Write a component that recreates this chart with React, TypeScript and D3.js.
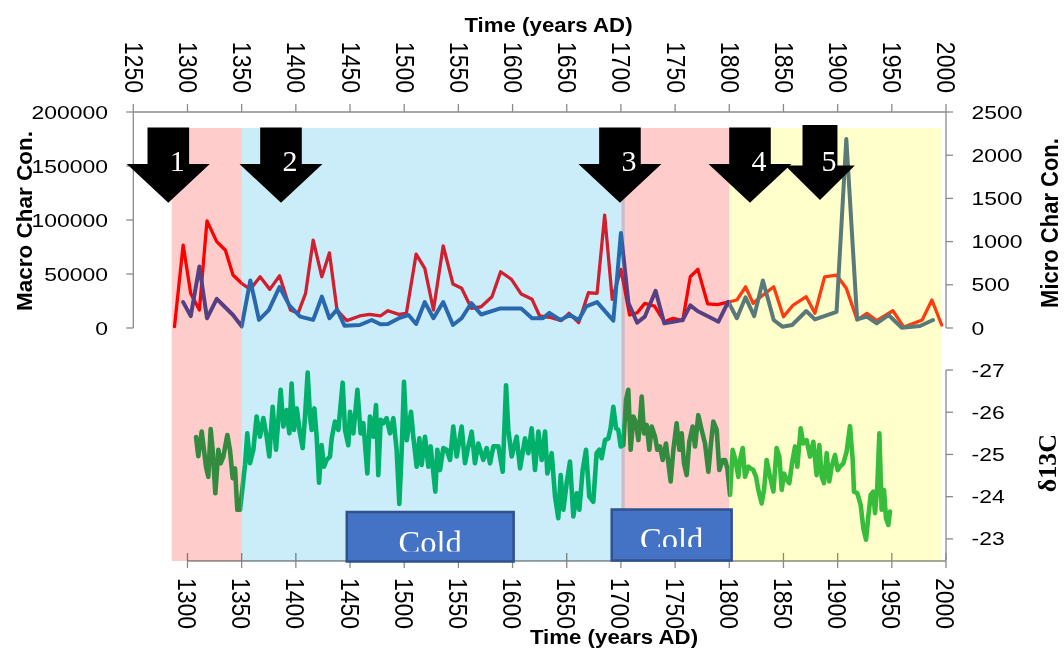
import React from 'react';
import * as d3 from 'd3';

const W = 1064;
const H = 652;

// Axis ticks
const topTicks = [1250, 1300, 1350, 1400, 1450, 1500, 1550, 1600, 1650, 1700, 1750, 1800, 1850, 1900, 1950, 2000];
const bottomTicks = [1300, 1350, 1400, 1450, 1500, 1550, 1600, 1650, 1700, 1750, 1800, 1850, 1900, 1950, 2000];
const macroTicks = [0, 50000, 100000, 150000, 200000];
const microTicks = [0, 500, 1000, 1500, 2000, 2500];
const isoTicks = [-27, -26, -25, -24, -23];

// Climate periods (shaded)
const bandStart = [1285.4, 1350, 1700.5, 1800];
const bandEnd = [1350, 1703.5, 1800, 1996];

// Numbered events
const eventLabels = ['1', '2', '3', '4', '5'];
const eventYears = [1282.3, 1386.3, 1699.1, 1819.1, 1883.7];

// Cold periods
const coldLabels = ['Cold', 'Cold'];
const coldStart = [1447, 1691.5];
const coldEnd = [1601, 1802.2];

// Macro charcoal concentration (left axis)
const macroYears = [1296, 1303, 1311, 1318, 1327, 1335, 1342, 1350, 1358, 1366, 1375, 1385, 1394, 1404, 1416, 1424, 1431, 1438, 1445, 1459, 1470, 1478, 1485, 1496, 1504, 1511, 1519, 1527, 1536, 1545, 1553, 1562, 1571, 1588, 1608, 1618, 1628, 1634, 1644, 1653, 1661, 1668, 1678, 1693, 1700, 1707, 1715, 1722, 1732, 1740, 1748, 1757, 1764, 1771, 1782, 1790, 1799, 1807, 1815, 1823, 1831, 1841, 1849, 1858, 1871, 1879, 1899, 1908, 1918, 1927, 1936, 1947, 1959, 1976, 1988];
const macroValues = [24000, 11000, 57000, 9000, 27000, 19000, 12000, 1500, 44000, 7500, 16500, 38000, 21000, 10500, 7500, 29000, 9000, 17000, 2000, 2800, 7400, 3400, 3700, 9500, 12000, 3700, 24000, 9000, 24000, 2800, 9000, 23000, 12500, 18000, 18000, 9000, 9000, 14000, 7400, 12000, 7400, 20000, 24000, 6800, 88000, 23000, 4900, 10500, 34500, 4300, 5800, 7400, 21000, 15500, 10000, 5800, 24300, 9000, 28400, 11000, 44000, 7400, 1200, 2800, 15700, 8000, 15000, 175000, 8000, 10500, 4300, 12000, 300, 1900, 7400];

// Micro charcoal concentration (right axis)
const microYears = [1288, 1296, 1303, 1311, 1318, 1327, 1335, 1342, 1350, 1358, 1367, 1376, 1385, 1395, 1402, 1409, 1416, 1424, 1431, 1438, 1447, 1459, 1468, 1478, 1485, 1495, 1502, 1511, 1519, 1527, 1536, 1545, 1553, 1562, 1571, 1581, 1589, 1599, 1608, 1618, 1625, 1634, 1645, 1652, 1661, 1670, 1678, 1685, 1692, 1700, 1708, 1715, 1722, 1731, 1740, 1748, 1757, 1764, 1771, 1780, 1789, 1799, 1807, 1815, 1822, 1831, 1841, 1850, 1859, 1871, 1879, 1888, 1899, 1908, 1918, 1927, 1936, 1951, 1961, 1978, 1987, 1996];
const microValues = [15, 960, 400, 208, 1240, 1000, 900, 613, 517, 447, 593, 447, 605, 208, 170, 400, 1017, 593, 870, 208, 85, 139, 158, 139, 200, 158, 170, 855, 690, 208, 951, 509, 459, 228, 246, 362, 651, 563, 393, 332, 139, 124, 85, 170, 62, 408, 401, 1306, 332, 679, 150, 177, 285, 254, 73, 112, 85, 593, 679, 280, 270, 300, 324, 477, 285, 381, 477, 131, 266, 362, 170, 593, 613, 459, 92, 170, 85, 200, 10, 92, 324, 35];

// δ13C record (lower panel, reversed axis)
const isoYears = [1307.9, 1310.0, 1313.1, 1315.2, 1317.1, 1319.2, 1321.4, 1323.2, 1325.7, 1328.5, 1330.6, 1333.1, 1336.8, 1339.2, 1341.7, 1343.9, 1346.0, 1348.5, 1350.9, 1353.1, 1355.2, 1357.7, 1360.8, 1363.8, 1366.9, 1370.0, 1373.1, 1375.5, 1378.6, 1381.7, 1386.0, 1388.5, 1391.5, 1394.0, 1396.1, 1398.3, 1400.8, 1403.8, 1406.3, 1408.5, 1410.9, 1413.1, 1414.6, 1417.1, 1419.2, 1421.4, 1423.8, 1426.0, 1428.4, 1431.5, 1433.1, 1436.1, 1439.2, 1443.2, 1445.4, 1448.4, 1450.0, 1453.1, 1456.8, 1459.8, 1462.3, 1466.0, 1468.4, 1471.5, 1474.0, 1476.1, 1478.3, 1480.7, 1483.8, 1486.9, 1490.0, 1493.0, 1495.5, 1497.7, 1499.8, 1502.3, 1506.3, 1508.4, 1511.5, 1514.0, 1516.1, 1519.2, 1522.3, 1524.4, 1528.7, 1530.6, 1533.0, 1536.1, 1539.2, 1542.3, 1545.3, 1548.4, 1553.0, 1556.1, 1559.2, 1562.3, 1565.3, 1568.4, 1573.0, 1576.1, 1579.2, 1582.3, 1586.9, 1590.9, 1594.0, 1596.1, 1599.2, 1603.8, 1606.9, 1611.5, 1614.6, 1617.6, 1620.7, 1623.8, 1626.9, 1630.0, 1632.1, 1636.1, 1639.2, 1642.2, 1644.4, 1646.9, 1649.9, 1653.0, 1656.1, 1659.2, 1661.6, 1664.7, 1667.8, 1670.8, 1674.5, 1677.6, 1680.1, 1682.2, 1685.3, 1688.4, 1690.5, 1693.0, 1695.5, 1697.6, 1699.8, 1702.2, 1704.7, 1706.8, 1709.0, 1711.5, 1713.9, 1716.1, 1719.2, 1721.3, 1723.8, 1726.2, 1728.4, 1731.5, 1733.6, 1736.1, 1738.5, 1741.6, 1743.8, 1745.9, 1748.4, 1751.4, 1753.9, 1756.1, 1758.2, 1760.7, 1763.1, 1766.2, 1768.4, 1771.4, 1774.5, 1777.6, 1780.7, 1783.1, 1785.3, 1788.4, 1790.8, 1793.9, 1796.1, 1798.2, 1800.7, 1803.1, 1805.6, 1808.4, 1809.9, 1812.4, 1814.5, 1817.6, 1819.7, 1822.2, 1824.7, 1826.8, 1829.9, 1832.1, 1834.5, 1837.6, 1840.7, 1843.7, 1846.2, 1848.4, 1850.5, 1853.0, 1855.4, 1857.9, 1860.7, 1862.8, 1865.9, 1868.3, 1871.4, 1874.5, 1877.6, 1880.6, 1883.1, 1885.3, 1887.4, 1889.9, 1892.3, 1894.5, 1897.6, 1900.0, 1902.2, 1905.3, 1908.3, 1911.4, 1913.9, 1915.1, 1918.2, 1921.3, 1923.7, 1926.2, 1928.3, 1930.5, 1932.9, 1934.5, 1936.6, 1938.5, 1940.6, 1942.8, 1944.6, 1946.8, 1948.3];
const isoValues = [-25.41, -24.96, -25.54, -25.11, -24.71, -24.47, -25.60, -25.11, -24.08, -25.11, -24.79, -24.95, -25.46, -25.11, -24.44, -24.67, -23.69, -23.69, -24.24, -24.75, -25.50, -24.79, -25.11, -25.90, -25.42, -25.86, -25.42, -24.95, -26.13, -25.11, -26.53, -25.66, -26.05, -25.50, -26.68, -25.58, -26.09, -25.50, -25.15, -25.90, -26.94, -25.90, -25.58, -26.09, -25.42, -24.33, -25.22, -24.71, -24.87, -24.95, -25.38, -25.78, -25.58, -26.70, -25.58, -25.22, -26.01, -25.50, -26.53, -25.50, -25.74, -24.55, -25.90, -25.42, -26.17, -24.51, -25.82, -25.74, -25.86, -25.50, -25.86, -25.11, -23.83, -25.11, -26.72, -25.34, -26.01, -25.42, -24.71, -25.38, -24.75, -25.42, -24.71, -25.19, -24.12, -25.11, -24.63, -25.15, -25.11, -24.87, -25.66, -24.95, -25.66, -24.79, -25.19, -25.54, -24.79, -25.26, -24.87, -25.15, -24.79, -25.19, -25.19, -24.59, -26.64, -25.58, -24.95, -25.42, -24.67, -25.38, -25.03, -25.62, -24.63, -25.54, -24.87, -25.54, -24.55, -25.03, -24.00, -23.49, -24.51, -23.69, -24.32, -24.83, -23.53, -24.08, -23.69, -24.63, -25.11, -24.00, -23.88, -25.03, -25.11, -24.91, -25.34, -25.38, -25.62, -26.13, -25.62, -25.58, -25.19, -25.22, -26.29, -26.53, -25.11, -25.90, -25.74, -25.34, -26.37, -25.50, -25.70, -25.11, -25.66, -25.42, -25.11, -25.19, -24.87, -25.26, -24.79, -24.36, -25.11, -25.74, -25.11, -25.50, -24.79, -24.51, -25.30, -25.66, -25.19, -25.93, -25.58, -25.26, -24.59, -25.26, -25.78, -25.58, -24.63, -24.87, -24.87, -24.67, -24.04, -25.11, -24.87, -24.47, -24.87, -25.15, -24.47, -24.71, -24.67, -24.63, -24.47, -24.16, -23.84, -24.16, -24.87, -24.47, -24.12, -25.15, -24.95, -24.16, -24.55, -24.40, -24.32, -24.79, -25.19, -24.71, -25.62, -25.26, -25.34, -24.95, -25.30, -24.51, -25.22, -24.47, -24.32, -25.03, -24.36, -24.71, -24.99, -24.63, -24.71, -24.79, -25.07, -25.67, -24.87, -24.12, -24.08, -23.80, -23.25, -22.98, -23.53, -24.04, -24.12, -23.61, -24.24, -25.50, -23.69, -24.16, -23.49, -23.33, -23.65];

// Styling
const SANS = "'Liberation Sans', Arial, sans-serif";
const SERIF = "'Liberation Serif', 'Times New Roman', serif";
const AXIS = '#8a8a8a';
const bandFills = ['#ffcccc', '#cbedf9', '#ffcccc', '#ffffcc'];
const macroColors = ['#574082', '#2a68ad', '#574082', '#5a7a7a'];
const microColors = ['#ff0000', '#d0202f', '#ff0000', '#ff3b12'];
const isoColors = ['#348a3f', '#00b06b', '#348a3f', '#37bd3c'];

const BAND_TOP = 128;
const BAND_BOTTOM = 561;
const BOTTOM_AXIS_Y = 561;
const TOP_AXIS_Y = 112;

const coldTop = [512, 509.5];
const coldBottom = [561.5, 560.5];
const coldTextClip = [551.5, 547];
const arrowScale = [1, 1, 1, 1, 0.84];

type TProps = {
  x: number;
  y: number;
  sx?: number;
  rot?: number;
  children: React.ReactNode;
  [k: string]: any;
};

function SText({ x, y, sx = 1, rot = 0, children, ...rest }: TProps) {
  return (
    <text transform={`translate(${x},${y}) scale(${sx},1) rotate(${rot})`} {...rest}>
      {children}
    </text>
  );
}

export default function App() {
  const x = d3.scaleLinear().domain([1250, 2000]).range([133.3, 946]);
  const yMacro = d3.scaleLinear().domain([0, 200000]).range([328, 112]);
  const yMicro = d3.scaleLinear().domain([0, 2500]).range([328, 112]);
  const yIso = d3.scaleLinear().domain([-27, -22.5]).range([370, 560]);

  const xl = x(1250);
  const xr = x(2000);

  // colour segments follow the shaded periods
  const segEdges = bandStart.map((s, i) =>
    i === 0 ? 1250 : (s + bandEnd[i - 1]) / 2
  );
  segEdges.push(2000);

  const macroLine = d3
    .line<number>()
    .x((_, i) => x(macroYears[i]))
    .y((d) => yMacro(d));
  const microLine = d3
    .line<number>()
    .x((_, i) => x(microYears[i]))
    .y((d) => yMicro(d));
  const isoLine = d3
    .line<number>()
    .x((_, i) => x(isoYears[i]))
    .y((d) => yIso(d));

  const segmented = (d: string, colors: string[], width: number, key: string) =>
    colors.map((c, i) => (
      <path
        key={`${key}${i}`}
        d={d}
        fill="none"
        stroke={c}
        strokeWidth={width}
        strokeLinejoin="round"
        strokeLinecap="round"
        clipPath={`url(#seg${i})`}
      />
    ));

  const arrowPath = (cx: number, s: number) => {
    const sh = 20.8 * s;
    const hh = 41.5 * s;
    const top = s < 1 ? 125 : 127.5;
    const base = s < 1 ? 165.5 : 164;
    const tip = s < 1 ? 200 : 202.7;
    return `M${cx - sh},${top}L${cx + sh},${top}L${cx + sh},${base}L${cx + hh},${base}L${cx},${tip}L${cx - hh},${base}L${cx - sh},${base}Z`;
  };

  return (
    <svg
      width={W}
      height={H}
      style={{ position: 'absolute', left: 0, top: 0, background: '#fff' }}
    >
      <defs>
        {segEdges.slice(0, -1).map((e, i) => (
          <clipPath id={`seg${i}`} key={i}>
            <rect x={x(e)} y={0} width={x(segEdges[i + 1]) - x(e)} height={H} />
          </clipPath>
        ))}
        {coldLabels.map((_, i) => (
          <clipPath id={`coldclip${i}`} key={i}>
            <rect x={0} y={0} width={W} height={coldTextClip[i]} />
          </clipPath>
        ))}
      </defs>

      {/* bottom time axis line (tinted by the period shading) */}
      <line x1={x(1300)} x2={xr} y1={BOTTOM_AXIS_Y} y2={BOTTOM_AXIS_Y} stroke={AXIS} strokeWidth={1.3} />
      {bottomTicks.map((t) => (
        <line key={t} x1={x(t)} x2={x(t)} y1={BOTTOM_AXIS_Y - 8} y2={BOTTOM_AXIS_Y + 7} stroke={AXIS} strokeWidth={1.3} />
      ))}

      {/* period shading */}
      {bandStart.map((s, i) => (
        <rect
          key={i}
          x={x(s)}
          y={BAND_TOP}
          width={x(bandEnd[i]) - x(s)}
          height={BAND_BOTTOM - BAND_TOP}
          fill={bandFills[i]}
          style={{ mixBlendMode: 'multiply' }}
        />
      ))}

      {/* series */}
      {segmented(isoLine(isoValues) || '', isoColors, 4.6, 'iso')}
      {segmented(microLine(microValues) || '', microColors, 3.3, 'mic')}
      {segmented(macroLine(macroValues) || '', macroColors, 4, 'mac')}

      {/* top time axis */}
      <line x1={xl} x2={xr} y1={TOP_AXIS_Y} y2={TOP_AXIS_Y} stroke={AXIS} strokeWidth={1.3} />
      {topTicks.map((t) => (
        <line key={t} x1={x(t)} x2={x(t)} y1={TOP_AXIS_Y - 8} y2={TOP_AXIS_Y} stroke={AXIS} strokeWidth={1.3} />
      ))}

      {/* left macro axis */}
      <line x1={xl} x2={xl} y1={yMacro(200000)} y2={yMacro(0)} stroke={AXIS} strokeWidth={1.3} />
      {macroTicks.map((t) => (
        <line key={t} x1={xl - 7} x2={xl} y1={yMacro(t)} y2={yMacro(t)} stroke={AXIS} strokeWidth={1.3} />
      ))}

      {/* right micro axis */}
      <line x1={xr} x2={xr} y1={yMicro(2500)} y2={yMicro(0)} stroke={AXIS} strokeWidth={1.3} />
      {microTicks.map((t) => (
        <line key={t} x1={xr} x2={xr + 7} y1={yMicro(t)} y2={yMicro(t)} stroke={AXIS} strokeWidth={1.3} />
      ))}

      {/* right δ13C axis */}
      <line x1={xr} x2={xr} y1={yIso(-27)} y2={yIso(-22.5)} stroke={AXIS} strokeWidth={1.3} />
      {isoTicks.map((t) => (
        <line key={t} x1={xr} x2={xr + 7} y1={yIso(t)} y2={yIso(t)} stroke={AXIS} strokeWidth={1.3} />
      ))}

      {/* cold periods */}
      {coldLabels.map((lab, i) => {
        const x0 = x(coldStart[i]);
        const x1 = x(coldEnd[i]);
        return (
          <g key={i}>
            <rect
              x={x0}
              y={coldTop[i]}
              width={x1 - x0}
              height={coldBottom[i] - coldTop[i]}
              fill="#4472c4"
              stroke="#2f528f"
              strokeWidth={2.5}
            />
            <g clipPath={`url(#coldclip${i})`}>
              <SText
                x={(x0 + x1) / 2}
                y={coldTop[i] + 40.5}
                sx={1.05}
                fill="#ffffff"
                fontFamily={SERIF}
                fontSize={31}
                textAnchor="middle"
              >
                {lab}
              </SText>
            </g>
          </g>
        );
      })}

      {/* numbered events */}
      {eventYears.map((yr, i) => (
        <g key={i}>
          <path d={arrowPath(x(yr), arrowScale[i])} fill="#000" />
          <text
            x={x(yr) + 9}
            y={170.5}
            fill="#fff"
            fontFamily={SERIF}
            fontSize={30}
            textAnchor="middle"
          >
            {eventLabels[i]}
          </text>
        </g>
      ))}

      {/* tick labels */}
      {topTicks.map((t) => (
        <SText key={t} x={x(t)} y={93} sx={1.12} rot={90} dy="0.33em" fontFamily={SANS} fontSize={23} textAnchor="end" fill="#000">
          {t}
        </SText>
      ))}
      {bottomTicks.map((t) => (
        <SText key={t} x={x(t) - 1} y={578} sx={1.12} rot={90} dy="0.33em" fontFamily={SANS} fontSize={23} textAnchor="start" fill="#000">
          {t}
        </SText>
      ))}
      {macroTicks.map((t) => (
        <SText key={t} x={108} y={yMacro(t) + 6.5} sx={1.24} fontFamily={SANS} fontSize={18.5} textAnchor="end" fill="#000">
          {t}
        </SText>
      ))}
      {microTicks.map((t) => (
        <SText key={t} x={971.5} y={yMicro(t) + 6.5} sx={1.24} fontFamily={SANS} fontSize={18.5} textAnchor="start" fill="#000">
          {t}
        </SText>
      ))}
      {isoTicks.map((t) => (
        <SText key={t} x={971.5} y={yIso(t) + 6.5} sx={1.24} fontFamily={SANS} fontSize={18.5} textAnchor="start" fill="#000">
          {t}
        </SText>
      ))}

      {/* axis titles */}
      <SText x={548.5} y={31.5} sx={1.06} fontFamily={SANS} fontSize={21} fontWeight="bold" textAnchor="middle" fill="#000">
        Time (years AD)
      </SText>
      <SText x={614} y={644} sx={1.06} fontFamily={SANS} fontSize={21} fontWeight="bold" textAnchor="middle" fill="#000">
        Time (years AD)
      </SText>
      <SText x={31.5} y={221} rot={-90} fontFamily={SANS} fontSize={22.5} fontWeight="bold" textAnchor="middle" fill="#000">
        Macro Char Con.
      </SText>
      <SText x={1058} y={223} sx={1.06} rot={-90} fontFamily={SANS} fontSize={22} fontWeight="bold" textAnchor="middle" fill="#000">
        Micro Char Con.
      </SText>
      <SText x={1056} y={463} rot={-90} fontFamily={SERIF} fontSize={26} fontWeight="bold" textAnchor="middle" fill="#000">
        δ13C
      </SText>
    </svg>
  );
}
